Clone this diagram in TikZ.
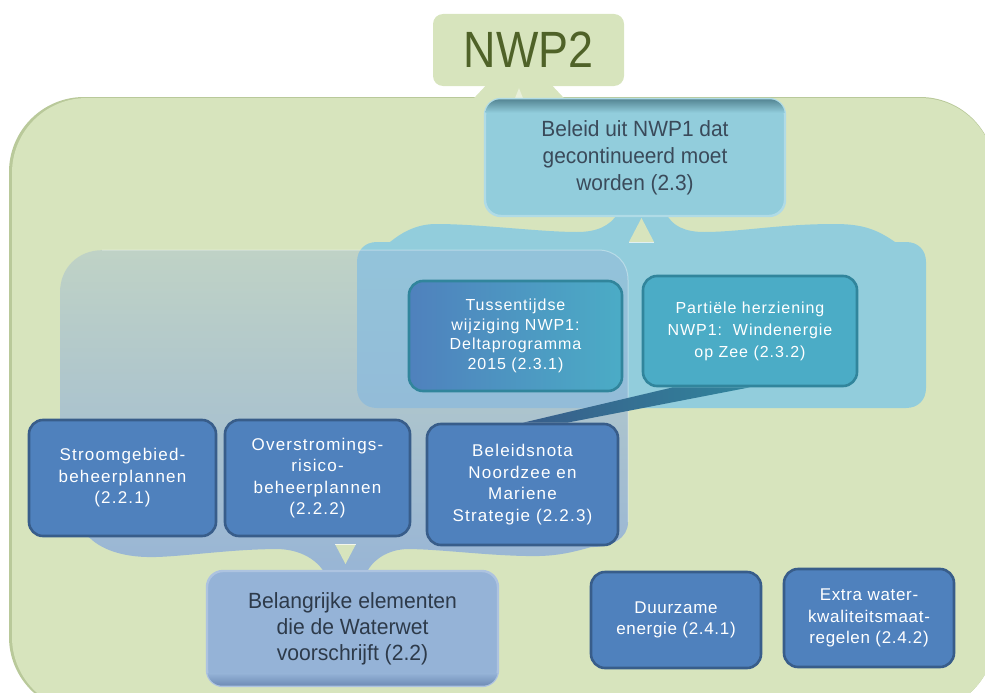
\documentclass[tikz,border=0pt]{standalone}
\usepackage{fontspec}
\setmainfont{Liberation Sans}
\usetikzlibrary{calc,fadings}
\definecolor{bggreen}{HTML}{D7E4BD}
\definecolor{bgedge}{HTML}{B9C99A}
\definecolor{nwptext}{HTML}{4F6228}
\definecolor{cyanA}{HTML}{92CDDC}
\definecolor{cyanB}{HTML}{B0DBE6}
\definecolor{cyanDark}{HTML}{4F7F8D}
\definecolor{blueA}{HTML}{4F81BD}
\definecolor{blueB}{HTML}{385D8A}
\definecolor{tealA}{HTML}{4BACC6}
\definecolor{tealB}{HTML}{31859C}
\definecolor{lblue}{HTML}{95B3D7}
\definecolor{lblueB}{HTML}{ADC3E0}
\definecolor{lblueDark}{HTML}{6A87B2}
\definecolor{darktextA}{HTML}{3A4A5A}
\definecolor{darktextB}{HTML}{2D3A4A}
\pgfdeclarelayer{bg}
\pgfsetlayers{bg,main}
\tikzfading[name=grpfade, top color=transparent!65, bottom color=transparent!5]
\newcommand\fntTwoTwo{\fontsize{17}{21.5}\selectfont\addfontfeature{LetterSpace=7}}
\newcommand\fntTwoThree{\fontsize{16}{19.5}\selectfont\addfontfeature{LetterSpace=6}}
\newcommand\fntTwoThreeB{\fontsize{16}{22}\selectfont\addfontfeature{LetterSpace=6}}
\newcommand\fntTwoFour{\fontsize{17}{21.5}\selectfont\addfontfeature{LetterSpace=4}}
\begin{document}
\begin{tikzpicture}[x=1pt,y=-1pt,
  darkbox/.style={draw=blueB, line width=2.6pt, fill=blueA, rounded corners=14pt,
    text=white, align=center, inner sep=0pt},
  tealbox/.style={draw=tealB, line width=2.6pt, fill=tealA, rounded corners=14pt,
    text=white, align=center, inner sep=0pt, font=\fntTwoThree},
  parentbox/.style={line width=2.4pt, rounded corners=16pt, align=center, inner sep=0pt},
  notch/.style={fill=bggreen},
  notchline/.style={draw=white, opacity=0.7, line width=0.8pt}]
\useasboundingbox (0,0) rectangle (985,693);

% ---------- nodes ----------
\node[fill=bggreen, rounded corners=10pt, minimum width=191pt, minimum height=72pt, inner sep=0pt,
  text=nwptext, font=\fontsize{51}{55}\selectfont\addfontfeature{FakeStretch=0.88}]
  (nwp2) at (528.5,50) {NWP2};

\node[parentbox, draw=cyanB, fill=cyanA, minimum width=300pt, minimum height=117pt,
  text=darktextA, font=\fontsize{22}{27}\selectfont\addfontfeature{FakeStretch=0.95}]
  (b23) at (635,157.5) {Beleid uit NWP1 dat\\gecontinueerd moet\\worden (2.3)};

\node[tealbox, left color=blueA, right color=tealA, minimum width=213pt, minimum height=110pt]
  (t231) at (515.5,336) {Tussentijdse\\wijziging NWP1:\\Deltaprogramma\\2015 (2.3.1)};
\node[tealbox, minimum width=214pt, minimum height=110pt, font=\fntTwoThreeB]
  (p232) at (750,331) {Partiële herziening\\NWP1:\ \ Windenergie\\op Zee (2.3.2)};

\node[darkbox, minimum width=187pt, minimum height=116pt, font=\fntTwoTwo]
  (s221) at (122.5,478) {Stroomgebied-\\beheerplannen\\(2.2.1)};
\node[darkbox, minimum width=185pt, minimum height=116pt, font=\fntTwoTwo]
  (o222) at (317.5,478) {Overstromings-\\risico-\\beheerplannen\\(2.2.2)};
\node[darkbox, minimum width=191pt, minimum height=121pt, font=\fntTwoTwo]
  (n223) at (522.5,484.5) {Beleidsnota\\Noordzee en\\Mariene\\Strategie (2.2.3)};

\node[parentbox, draw=lblueB, fill=lblue, minimum width=291pt, minimum height=115pt,
  text=darktextB, font=\fontsize{22}{26}\selectfont\addfontfeature{FakeStretch=0.96}]
  (b22) at (352.5,628.5) {Belangrijke elementen\\die de Waterwet\\voorschrijft (2.2)};

\node[darkbox, minimum width=170pt, minimum height=96pt, font=\fntTwoFour]
  (d241) at (676,620) {Duurzame\\energie (2.4.1)};
\node[darkbox, minimum width=170pt, minimum height=98pt, font=\fntTwoFour]
  (e242) at (869,618) {Extra water-\\kwaliteitsmaat-\\regelen (2.4.2)};

% inner shadows of the two parent boxes
\begin{scope}
  \clip[rounded corners=15pt] ($(b23.north west)+(1.5,1.5)$) rectangle ($(b23.south east)+(-1.5,-1.5)$);
  \shade[top color=cyanDark, bottom color=cyanA] ($(b23.north west)$) rectangle ($(b23.north east)+(0,15)$);
\end{scope}
\begin{scope}
  \clip[rounded corners=15pt] ($(b22.north west)+(1.5,1.5)$) rectangle ($(b22.south east)+(-1.5,-1.5)$);
  \shade[top color=lblue, bottom color=lblueDark] ($(b22.south west)+(0,-14)$) rectangle ($(b22.south east)$);
\end{scope}

% ---------- background shapes and connectors ----------
\begin{pgfonlayer}{bg}
  \clip (0,0) rectangle (985,693);
  % big NWP2 area
  \fill[bgedge, rounded corners=75pt] (9,97) rectangle (995,712);
  \fill[bggreen, rounded corners=75pt] (12,98) rectangle (995,712);
  % stem from NWP2 to the area
  \fill[bggreen] ($(nwp2.south)+(-40.5,-3)$) -- ($(nwp2.south)+(21.5,-3)$)
    -- ($(nwp2.south)+(36.5,13)$) -- ($(nwp2.south)+(-55.5,13)$) -- cycle;
  \fill[white, opacity=0.45] ($(nwp2.south)+(-9.5,2)$) -- ($(nwp2.south)+(-13.5,12)$)
    -- ($(nwp2.south)+(-5.5,12)$) -- cycle;

  % group of 2.3 (bracket hanging from b23)
  \fill[cyanA] (377,408) -- (906,408) .. controls (918,408) and (926,400) .. (926,388)
    -- (926,262) .. controls (926,250) and (918,242) .. (906,242) -- (895,242)
    .. controls (875,228) and (860,224) .. (834,224)
    .. controls (780,224) and (740,232) .. (704,232)
    .. controls (685,232) and (672,226) .. ($(b23.south)+(31,-4)$)
    -- ($(b23.south)+(-17,-4)$)
    .. controls (610,226) and (597,232) .. (577,232)
    .. controls (540,232) and (480,224) .. (436,224)
    .. controls (415,224) and (400,234) .. (390,242) -- (377,242)
    .. controls (365,242) and (357,250) .. (357,262) -- (357,388)
    .. controls (357,400) and (365,408) .. (377,408) -- cycle;
  \fill[notch] (629,242) -- (654,242) -- (641.5,218) -- cycle;
  \draw[notchline] (629,242) -- (654,242);

  % group of 2.2 (bracket above b22)
  \fill[lblue, path fading=grpfade] (60,292) .. controls (60,268) and (78,250) .. (102,250)
    -- (598,250) .. controls (615,250) and (628,262) .. (628,280)
    -- (628,522) .. controls (628,538) and (612,547) .. (591,547)
    .. controls (570,553) and (555,556) .. (534,556)
    .. controls (490,556) and (440,549) .. (408,549)
    .. controls (388,549) and (372,560) .. ($(b22.north)+(13.5,4)$)
    -- ($(b22.north)+(-27.5,4)$)
    .. controls (318,560) and (300,549) .. (277,549)
    .. controls (230,549) and (180,557) .. (151,557)
    .. controls (120,557) and (100,548) .. (90,538)
    .. controls (70,525) and (60,515) .. (60,500) -- cycle;
  \draw[white, opacity=0.35, line width=1pt] (102,250) -- (598,250)
    .. controls (615,250) and (628,262) .. (628,280) -- (628,522);
  \fill[notch] (335,544) -- (356,544) -- (345.5,564) -- cycle;
  \draw[notchline] (335,544) -- (356,544);

  % connector from 2.3.2 to 2.2.3
  \shade[left color=blueB, right color=tealB]
    ($(p232.south)+(-77,0)$) -- ($(p232.south)+(0,0)$)
    -- ($(n223.north)+(44.5,0)$) -- ($(n223.north)+(0.5,0)$) -- cycle;
\end{pgfonlayer}
\end{tikzpicture}
\end{document}
